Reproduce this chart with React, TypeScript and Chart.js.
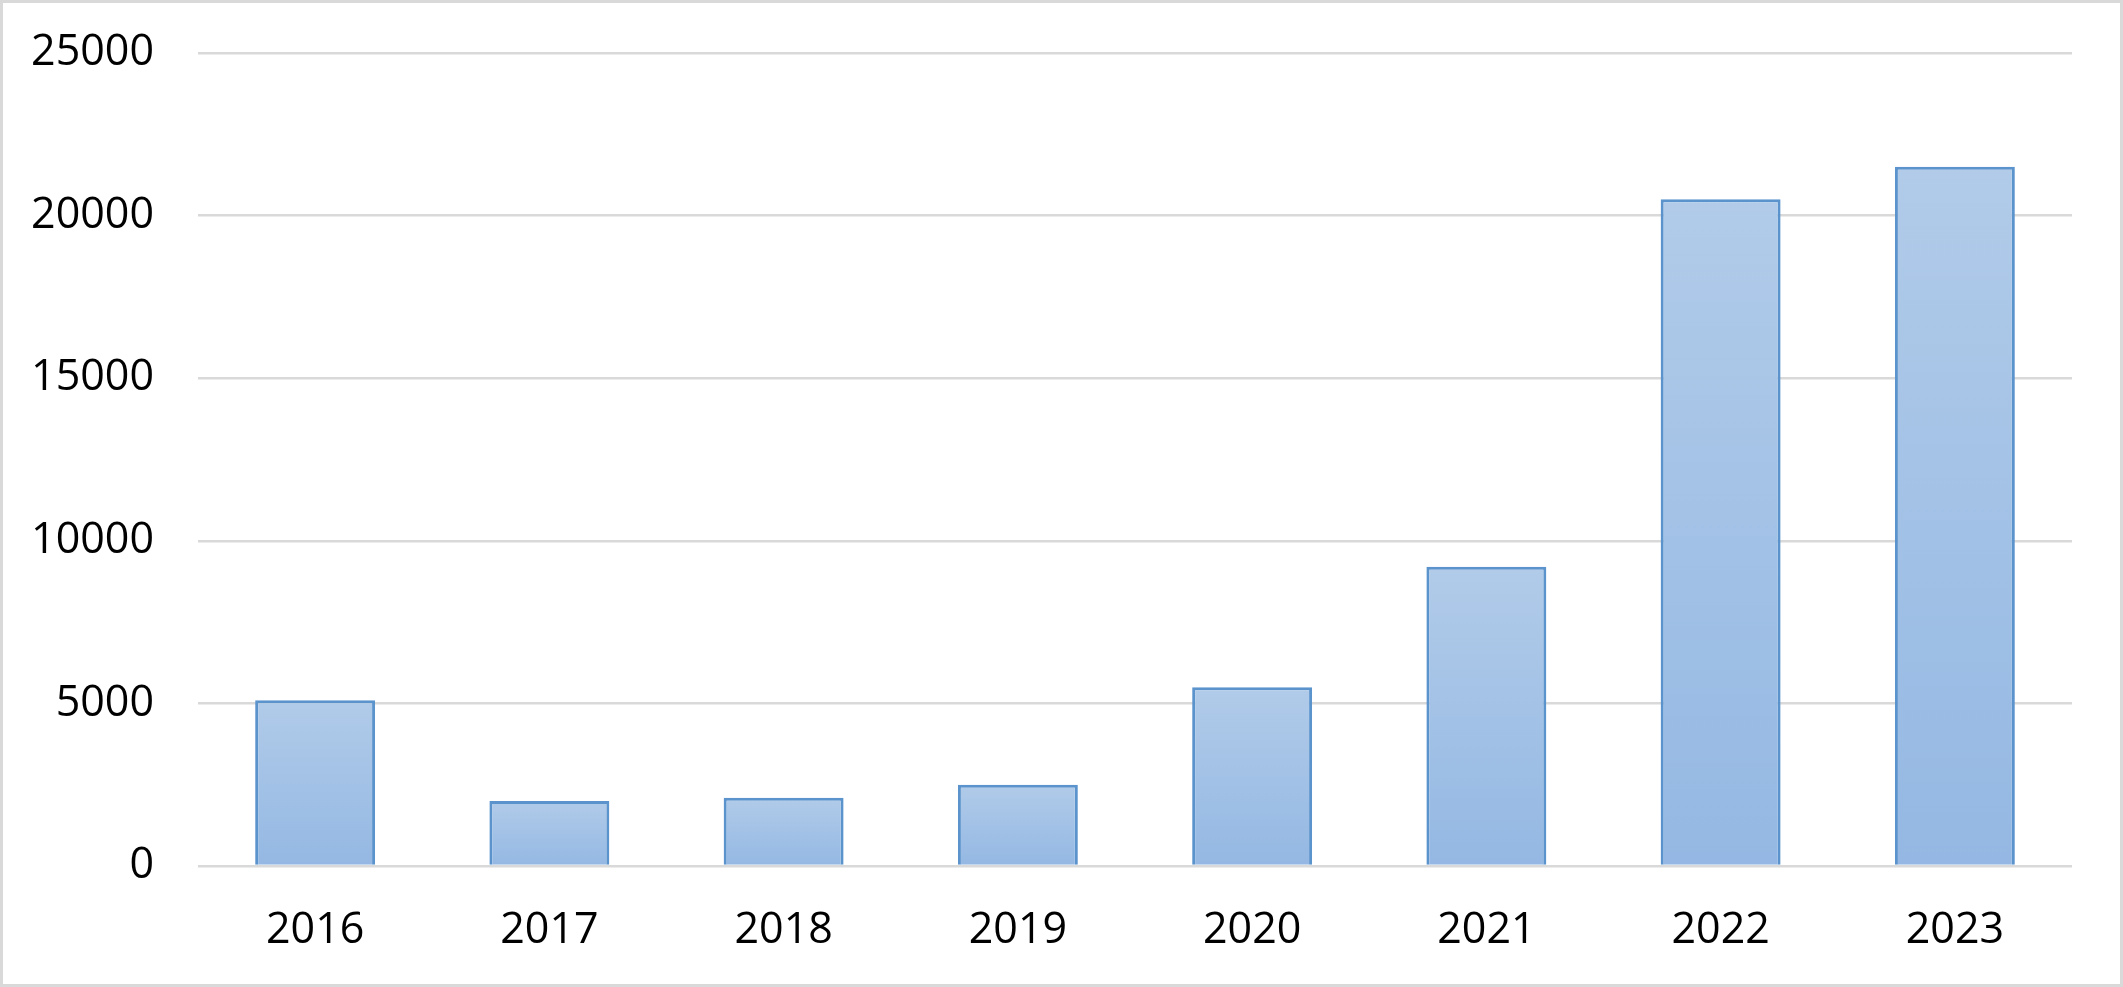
import React, { useEffect, useRef } from "react";
import { Chart, registerables } from "chart.js";

Chart.register(...registerables);

const years = ["2016", "2017", "2018", "2019", "2020", "2021", "2022", "2023"];
const values = [5100, 2000, 2100, 2500, 5500, 9200, 20500, 21500];
const yTicks = [0, 5000, 10000, 15000, 20000, 25000];

const FONT = "'Open Sans', 'Noto Sans', sans-serif";

export default function App() {
  const ref = useRef<HTMLCanvasElement | null>(null);

  useEffect(() => {
    document.body.style.margin = "0";
    const canvas = ref.current;
    if (!canvas) return;
    const chart = new Chart(canvas, {
      type: "bar",
      data: {
        labels: years,
        datasets: [
          {
            data: values,
            backgroundColor: (ctx: any) => {
              const chart = ctx.chart;
              const y = chart.scales && chart.scales.y;
              if (!y || ctx.dataIndex === undefined) return "#a3c1e6";
              const v = ctx.raw as number;
              const top = y.getPixelForValue(v);
              const bottom = y.getPixelForValue(0);
              if (!isFinite(top) || !isFinite(bottom) || top === bottom) return "#a3c1e6";
              const g = chart.ctx.createLinearGradient(0, top, 0, bottom);
              g.addColorStop(0, "#b1cbe9");
              g.addColorStop(1, "#94b8e3");
              return g;
            },
            borderColor: "#5b93cd",
            borderWidth: 3,
            categoryPercentage: 1,
            barPercentage: 0.512,
          },
        ],
      },
      options: {
        animation: false,
        responsive: true,
        maintainAspectRatio: false,
        layout: { padding: { top: 50, right: 48, left: 0, bottom: 0 } },
        plugins: {
          legend: { display: false },
          tooltip: { enabled: false },
          title: { display: false },
        },
        scales: {
          x: {
            grid: { display: false, drawTicks: false },
            border: { display: false },
            ticks: {
              color: "#000000",
              font: { family: FONT, size: 43 },
              padding: 39,
              maxRotation: 0,
            },
            afterFit: (scale: any) => {
              scale.height = 118;
            },
          },
          y: {
            min: 0,
            max: 25000,
            afterBuildTicks: (scale: any) => {
              scale.ticks = yTicks.map((v) => ({ value: v }));
            },
            grid: { color: "#d9d9d9", lineWidth: 2.5, drawTicks: false },
            border: { display: false },
            ticks: {
              color: "#000000",
              font: { family: FONT, size: 43 },
              padding: 44,
              callback: (v: any) => String(v),
            },
            afterFit: (scale: any) => {
              scale.width = 195;
              scale.paddingTop = 0;
              scale.paddingBottom = 0;
            },
          },
        },
      },
    });
    return () => chart.destroy();
  }, []);

  return (
    <div
      style={{
        position: "fixed",
        left: 0,
        top: 0,
        width: 2123,
        height: 987,
        boxSizing: "border-box",
        border: "3px solid #d9d9d9",
        background: "#ffffff",
      }}
    >
      <div style={{ position: "relative", width: 2117, height: 981 }}>
        <canvas ref={ref} />
      </div>
    </div>
  );
}
